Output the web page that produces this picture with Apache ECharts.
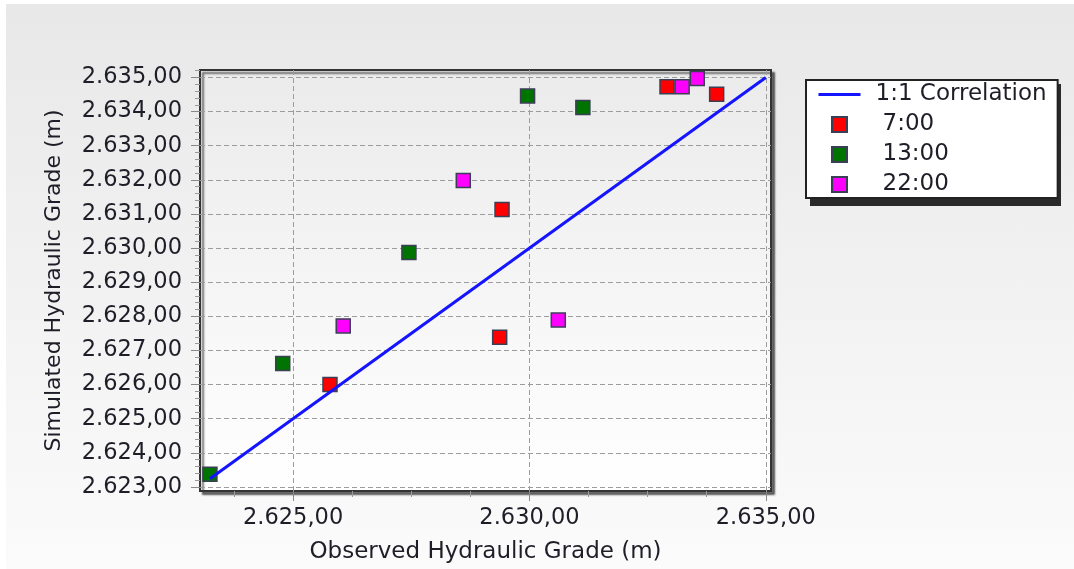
<!DOCTYPE html>
<html>
<head>
<meta charset="utf-8">
<script src="https://cdn.jsdelivr.net/npm/echarts@6.0.0/dist/echarts.min.js"></script>
<style>
  html, body { margin: 0; padding: 0; background: #fff; }
  #bg {
    position: absolute; left: 6px; top: 4px; width: 1068px; height: 565px;
    background: linear-gradient(#e8e8e8, #fbfbfb);
  }
  #chart { position: absolute; left: 0; top: 0; width: 1074px; height: 569px; }
</style>
</head>
<body>
<div id="bg"></div>
<div id="chart"></div>
<script>
// observed (x) / simulated (y) hydraulic grade
const obs7 = [2625.78, 2629.37, 2629.42, 2632.91, 2633.96];
const sim7 = [2626.0, 2627.39, 2631.13, 2634.73, 2634.51];
const obs13 = [2623.24, 2624.78, 2627.45, 2629.96, 2631.13];
const sim13 = [2623.37, 2626.62, 2629.87, 2634.46, 2634.12];
const obs22 = [2626.06, 2628.6, 2630.61, 2633.23, 2633.55];
const sim22 = [2627.72, 2631.98, 2627.89, 2634.73, 2634.97];
const corrEnds = [2623.24, 2635];

const xTicks = [2625, 2630, 2635];
const xMinorTicks = [2623.75, 2626.25, 2627.5, 2628.75, 2631.25, 2632.5, 2633.75];
const yTicks = [2623, 2624, 2625, 2626, 2627, 2628, 2629, 2630, 2631, 2632, 2633, 2634, 2635];
const yMinorTicks = [];
for (let v = 26228; v <= 26352; v += 2) {
  if (v % 10 !== 0) yMinorTicks.push(v / 10);
}

const FONT = "DejaVu Sans";
const TEXT = "#1e1e28";
const SQUARE = "path://M0,0H10V10H0Z";

function fmt(v) {
  const parts = v.toFixed(2).split(".");
  return parts[0].replace(/\B(?=(\d{3})+(?!\d))/g, ".") + "," + parts[1];
}

function pairs(xs, ys) {
  return xs.map((x, i) => [x, ys[i]]);
}

const gridLine = { show: true, lineStyle: { color: "#9c9c9c", type: [5, 3], width: 1 } };

const marker = (name, color, xs, ys) => ({
  name: name,
  type: "scatter",
  symbol: "rect",
  symbolSize: 14,
  itemStyle: { color: color, borderColor: "#3a3f55", borderWidth: 1.5, opacity: 1 },
  data: pairs(xs, ys)
});

const option = {
  backgroundColor: "transparent",
  animation: false,
  textStyle: { fontFamily: FONT },
  // drop shadow behind the legend box
  graphic: [
    {
      type: "rect",
      z: 1,
      silent: true,
      shape: { x: 810, y: 84, width: 251, height: 122 },
      style: { fill: "#2a2a2a" }
    }
  ],
  grid: {
    left: 200,
    top: 70,
    width: 571,
    height: 421,
    show: true,
    borderColor: "#333",
    borderWidth: 2,
    backgroundColor: new echarts.graphic.LinearGradient(0, 0, 0, 1, [
      { offset: 0, color: "#ebebeb" },
      { offset: 1, color: "#ffffff" }
    ]),
    shadowColor: "rgba(0,0,0,0.55)",
    shadowBlur: 2,
    shadowOffsetX: 3,
    shadowOffsetY: 3
  },
  legend: {
    z: 10,
    orient: "vertical",
    left: 806,
    top: 80,
    padding: [3, 11, 2, 11],
    itemGap: 7,
    itemWidth: 42,
    itemHeight: 15,
    backgroundColor: "#fff",
    borderColor: "#222",
    borderWidth: 2,
    data: [
      {
        name: "1:1 Correlation",
        itemStyle: { color: "rgba(0,0,0,0)", borderWidth: 0 },
        lineStyle: { width: 3 }
      },
      { name: "7:00", icon: SQUARE },
      { name: "13:00", icon: SQUARE },
      { name: "22:00", icon: SQUARE }
    ],
    formatter: function (name) {
      return name === "1:1 Correlation" ? "{a|" + name + "}" : "{b|" + name + "}";
    },
    textStyle: {
      fontFamily: FONT,
      fontSize: 23,
      color: TEXT,
      rich: {
        a: { fontFamily: FONT, fontSize: 23, color: TEXT, lineHeight: 24, padding: [0, 0, 0, 10] },
        b: { fontFamily: FONT, fontSize: 23, color: TEXT, lineHeight: 24, padding: [0, 0, 0, 17] }
      }
    }
  },
  xAxis: [
    {
      type: "value",
      min: 2623.03,
      max: 2635.11,
      name: "Observed Hydraulic Grade (m)",
      nameLocation: "middle",
      nameGap: 50,
      nameTextStyle: { fontFamily: FONT, fontSize: 23, color: TEXT },
      axisLine: { show: false },
      axisTick: { show: true, length: 10, customValues: xTicks, lineStyle: { color: "#888" } },
      axisLabel: {
        customValues: xTicks,
        margin: 16,
        fontFamily: FONT,
        fontSize: 22.5,
        color: TEXT,
        formatter: fmt
      },
      splitLine: gridLine
    },
    {
      // minor ticks only
      type: "value",
      position: "bottom",
      min: 2623.03,
      max: 2635.11,
      axisLine: { show: false },
      axisTick: { show: true, length: 6, customValues: xMinorTicks, lineStyle: { color: "#999" } },
      axisLabel: { show: false },
      splitLine: { show: false }
    }
  ],
  yAxis: [
    {
      type: "value",
      min: 2622.88,
      max: 2635.22,
      name: "Simulated Hydraulic Grade (m)",
      nameLocation: "middle",
      nameGap: 135,
      nameTextStyle: { fontFamily: FONT, fontSize: 22, color: TEXT },
      axisLine: { show: false },
      axisTick: { show: true, length: 9, customValues: yTicks, lineStyle: { color: "#888" } },
      axisLabel: {
        customValues: yTicks,
        margin: 18,
        fontFamily: FONT,
        fontSize: 22.5,
        color: TEXT,
        formatter: fmt
      },
      splitLine: gridLine
    },
    {
      type: "value",
      position: "left",
      min: 2622.88,
      max: 2635.22,
      axisLine: { show: false },
      axisTick: { show: true, length: 5, customValues: yMinorTicks, lineStyle: { color: "#999" } },
      axisLabel: { show: false },
      splitLine: { show: false }
    }
  ],
  series: [
    {
      name: "1:1 Correlation",
      type: "line",
      symbol: "none",
      showSymbol: false,
      color: "#1414ff",
      lineStyle: { width: 3, color: "#1414ff" },
      data: pairs(corrEnds, corrEnds)
    },
    marker("7:00", "#ff0000", obs7, sim7),
    marker("13:00", "#007400", obs13, sim13),
    marker("22:00", "#ff00ff", obs22, sim22)
  ]
};

const chart = echarts.init(document.getElementById("chart"));
chart.setOption(option);
window.addEventListener("resize", () => chart.resize());
</script>
</body>
</html>
